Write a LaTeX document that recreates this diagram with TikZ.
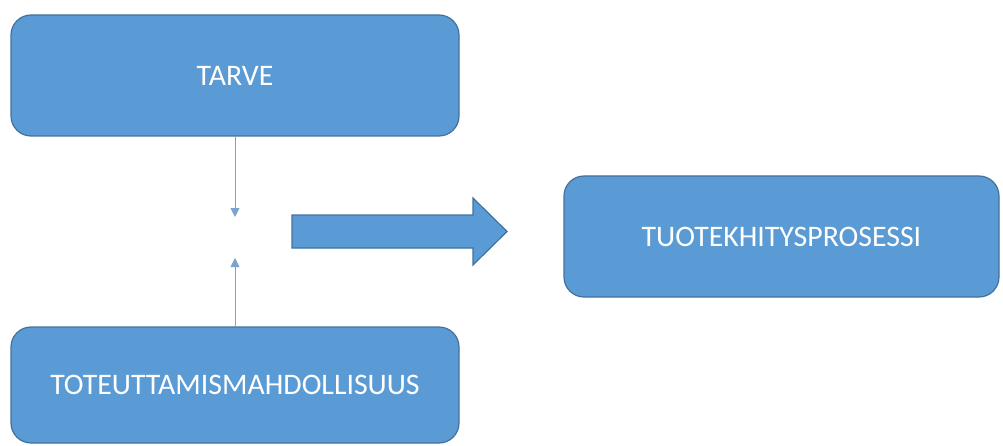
\documentclass[tikz,border=0pt]{standalone}
\usepackage{fontspec}
\setmainfont{Carlito}
\usetikzlibrary{arrows.meta, positioning}
\definecolor{boxblue}{HTML}{5B9BD5}
\definecolor{boxedge}{HTML}{41719C}
\definecolor{linkblue}{HTML}{7BA3CC}

\tikzset{
    stage/.style={draw=boxedge, line width=1.2pt, fill=boxblue, rounded corners=20pt,
        text=white, font=\fontsize{29.8}{34}\selectfont, inner sep=0pt},
    link/.style={draw=linkblue, line width=0.9pt, -{Triangle[width=9pt,length=9pt]}},
}

\begin{document}
\begin{tikzpicture}[x=1pt, y=1pt]
            \useasboundingbox (0,0) rectangle (1003,445);
            \node[stage, minimum width=448pt, minimum height=121pt] (need) at (235,369.5) {TARVE};
            \node[stage, minimum width=448pt, minimum height=116pt] (means) at (235,60) {TOTEUTTAMISMAHDOLLISUUS};
            \node[stage, minimum width=435pt, minimum height=121pt] (process) at (781.5,208.5) {TUOTEKHITYSPROSESSI};
            \coordinate (needend) at (235,228);
            \coordinate (meansend) at (235,187);
            \draw[link] (need.south) -- (needend);
            \draw[link] (means.north) -- (meansend);
            % block arrow towards the process
            \draw[draw=boxedge, line width=1.2pt, fill=boxblue, line join=miter]
                (292,230) -- (473,230) -- (473,247) -- (507,213.5) -- (473,180)
                -- (473,197) -- (292,197) -- cycle;
        \end{tikzpicture}
\end{document}
